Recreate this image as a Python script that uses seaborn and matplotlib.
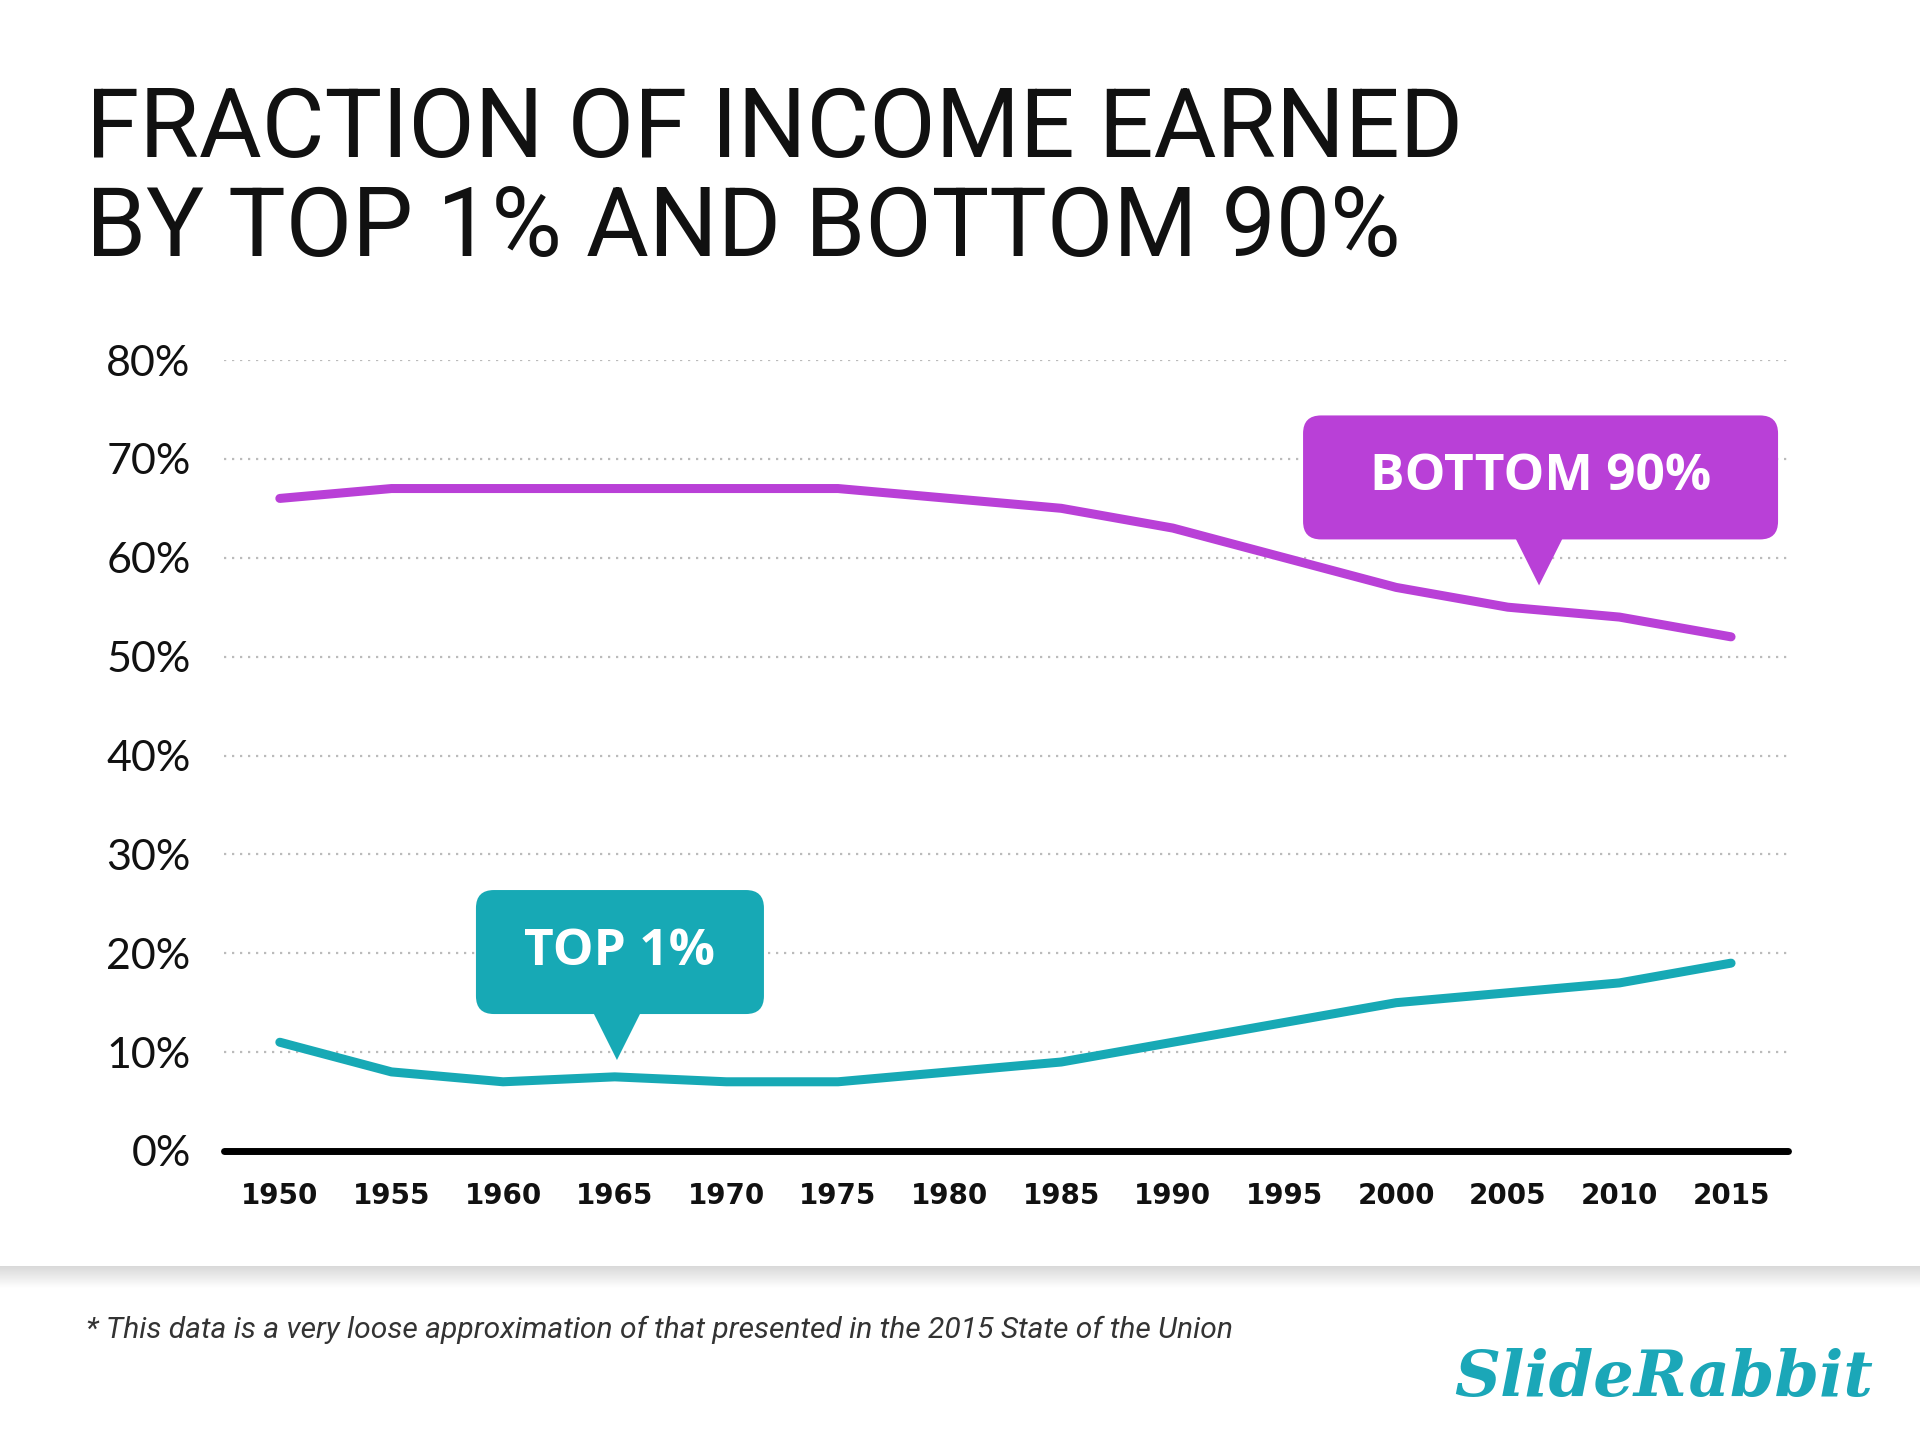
import numpy as np
import pandas as pd
import seaborn as sns
import matplotlib.pyplot as plt
import matplotlib.transforms as mtransforms
from matplotlib.colors import LinearSegmentedColormap
from matplotlib.patches import FancyBboxPatch, Polygon

# data
years = [1950, 1955, 1960, 1965, 1970, 1975, 1980, 1985, 1990, 1995, 2000, 2005, 2010, 2015]
bottom_90 = [66, 67, 67, 67, 67, 67, 66, 65, 63, 60, 57, 55, 54, 52]
top_1 = [11, 8, 7, 7.5, 7, 7, 8, 9, 11, 13, 15, 16, 17, 19]
y_ticks = [0, 10, 20, 30, 40, 50, 60, 70, 80]
y_tick_labels = [f"{v}%" for v in y_ticks]

PURPLE = "#B940D7"
TEAL = "#17A9B5"

sns.set_style("white")
plt.rcParams['font.family'] = ['Lato', 'DejaVu Sans']

df = pd.DataFrame({"year": years, "Bottom 90%": bottom_90, "Top 1%": top_1})

W, H = 1920, 1440
fig = plt.figure(figsize=(W / 100, H / 100), dpi=100)
fig.patch.set_facecolor("white")
ax = fig.add_axes([224 / W, 1 - 1151 / H, (1788 - 224) / W, (1151 - 360) / H])

sns.lineplot(data=df, x="year", y="Bottom 90%", ax=ax, color=PURPLE, linewidth=6.5,
             solid_capstyle="round", zorder=3)
sns.lineplot(data=df, x="year", y="Top 1%", ax=ax, color=TEAL, linewidth=6.5,
             solid_capstyle="round", zorder=3)

ax.set_xlim(1947.5, 2017.55)
ax.set_ylim(0, 80)
ax.set_xticks(years)
ax.set_xticklabels([str(y) for y in years], family=['DejaVu Sans'],
                   fontsize=20, fontweight="bold", color="#111111")
ax.set_yticks(y_ticks)
ax.set_yticklabels(y_tick_labels, fontsize=31, color="#111111")
ax.tick_params(axis="x", length=0, pad=22)
ax.tick_params(axis="y", length=0, pad=24)
ax.set_xlabel("")
ax.set_ylabel("")
for s in ax.spines.values():
    s.set_visible(False)

# dotted grid, thick black baseline
ax.yaxis.grid(True, color="#BBBBBB", linestyle=(0, (1, 2.6)), linewidth=1.6)
ax.xaxis.grid(False)
ax.axhline(0, color="black", linewidth=5, solid_capstyle="round", clip_on=False, zorder=4)

# title
fig.text(86 / W, 1 - 85 / H, "FRACTION OF INCOME EARNED\nBY TOP 1% AND BOTTOM 90%",
         ha="left", va="top", fontsize=69.5, color="#111111", linespacing=1.1,
         fontweight="normal", family=['Roboto', 'DejaVu Sans'])


def callout(tip_x, tip_y, text, color, left, right):
    # speech bubble drawn in pixel space, pointer tip anchored at a data position
    tx, ty = ax.transData.transform((tip_x, tip_y))
    pix = mtransforms.IdentityTransform()
    gap, h, r = 46, 124, 18
    box = FancyBboxPatch((tx + left, ty + gap), right - left, h,
                         boxstyle=f"round,pad=0,rounding_size={r}",
                         facecolor=color, edgecolor="none", transform=pix)
    tri = Polygon([(tx - 24, ty + gap + 2), (tx + 24, ty + gap + 2), (tx, ty)],
                  closed=True, facecolor=color, edgecolor="none", transform=pix)
    fig.add_artist(box)
    fig.add_artist(tri)
    fig.text(tx + (left + right) / 2, ty + gap + h / 2, text, transform=pix,
             ha="center", va="center", color="white", fontsize=37, fontweight="bold",
             family=['Open Sans', 'DejaVu Sans'])


callout(2006.4, 57.2, "BOTTOM 90%", PURPLE, -236, 239)
callout(1965.1, 9.2, "TOP 1%", TEAL, -141, 147)

# footer shading band
band = fig.add_axes([0, 1 - 1288 / H, 1, 22 / H])
grad = np.linspace(0, 1, 50).reshape(-1, 1)
band.imshow(grad, aspect="auto", extent=[0, 1, 0, 1],
            cmap=LinearSegmentedColormap.from_list("g", ["#D9D9D9", "#FFFFFF"]))
band.axis("off")

fig.text(86 / W, 1 - 1330 / H,
         "* This data is a very loose approximation of that presented in the 2015 State of the Union",
         ha="left", va="center", fontsize=21.6, style="italic", fontweight="normal",
         color="#333333", family=['Roboto', 'DejaVu Sans'])

fig.text(1873 / W, 1 - 1396 / H, "SlideRabbit", ha="right", va="baseline",
         fontsize=46, style="italic", fontweight="bold", color="#1BA7B8",
         family=['DejaVu Serif'])

fig.savefig("out.png", dpi=100)
